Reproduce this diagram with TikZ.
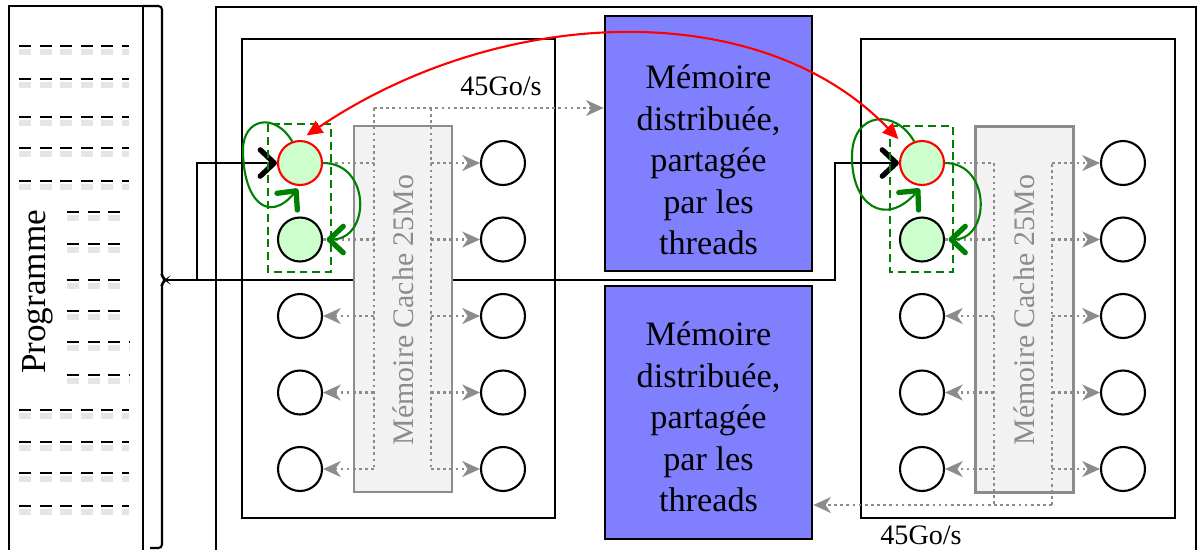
\documentclass[tikz,border=0pt]{standalone}
\usepackage{fontspec}
\setmainfont{Liberation Serif}
\usetikzlibrary{arrows.meta}
\definecolor{memblue}{HTML}{8080FF}
\definecolor{thgreen}{HTML}{008000}
\definecolor{lightgreen}{HTML}{CCFFCC}
\definecolor{cachegray}{HTML}{F2F2F2}
\definecolor{busgray}{HTML}{8C8C8C}

\begin{document}
\begin{tikzpicture}[x=0.02cm, y=-0.02cm, line width=1.2pt,
   membox/.style={draw, fill=memblue, line width=1.5pt, minimum width=4.14cm, inner sep=0pt},
   memtext/.style={align=center, font=\fontsize{19.5}{23.6}\selectfont},
   cache/.style={draw=busgray, fill=cachegray, line width=1.2pt, minimum width=1.96cm, minimum height=7.32cm, inner sep=0pt},
   cachetext/.style={rotate=90, text=busgray, font=\fontsize{17}{20}\selectfont},
   rate/.style={font=\fontsize{16}{19}\selectfont},
   bus/.style={draw=busgray, dotted, line width=1.5pt},
   busarrow/.style={bus, -{Stealth[length=10pt, width=9pt, inset=3pt]}},
   call/.style={-{Straight Barb[length=8pt, width=15pt, line width=3pt, round]}},
   jump/.style={draw=thgreen, line width=1.2pt, shorten >=2pt, -{Straight Barb[length=8pt, width=15pt, line width=3pt, round]}},
   sync/.style={draw=red, line width=1.2pt, >={Triangle[length=9pt, width=8pt]}, <->},
   group/.style={draw=thgreen, line width=1.2pt, dash pattern=on 4.5pt off 2.8pt},
   codeline/.style={line width=1.6pt, dash pattern=on 6.8pt off 4.9pt},
   codeshadow/.style={codeline, draw=black!10, line width=3pt}]

\useasboundingbox (0,0) rectangle (1198,549);
\clip (0,0) rectangle (1198,549);

\draw (9,560) -- (9,6) -- (143,6) -- (143,560);
\draw[rounded corners=2pt] (143,6) -- (162,6) -- (162,277) -- (166,280) -- (162,283) -- (162,548) -- (150,548);
\coordinate (brtip) at (166,280);
\node[rotate=90, font=\fontsize{20}{24}\selectfont] (prog) at (38,292) {Programme};
\foreach \y in {46,79,117,148,181,410,442,473,506} {
   \draw[codeshadow] (19,\y+6) -- (129,\y+6);
   \draw[codeline] (19,\y) -- (129,\y);
}
\foreach \y/\e in {212/120,244/120,280/120,311/120,342/130,375/130} {
   \draw[codeshadow] (67,\y+6) -- (\e,\y+6);
   \draw[codeline] (67,\y) -- (\e,\y);
}

\draw (216,560) -- (216,7) -- (1196,7) -- (1196,560);
\draw[line width=1.4pt] (242,39) rectangle (555,518);
\draw[line width=1.4pt] (861,39) rectangle (1175,518);

\node[membox, minimum height=5.1cm] (mem1) at (708.5,143.5) {};
\node[membox, minimum height=5.06cm] (mem2) at (708.5,412.5) {};
\node[memtext] (mem1text) at (708.5,160) {Mémoire\\distribuée,\\partagée\\par les\\threads};
\node[memtext] (mem2text) at (708.5,417) {Mémoire\\distribuée,\\partagée\\par les\\threads};

\begin{scope}[every node/.style={circle, draw, fill=white, line width=1.2pt, minimum size=0.88cm, inner sep=0pt}]
   \foreach \i/\y in {1/163,2/239.5,3/316,4/392.5,5/469} {
      \node (b\i) at (503,\y) {};
      \node (d\i) at (1123,\y) {};
   }
   \foreach \i/\y in {3/316,4/392.5,5/469} {
      \node (a\i) at (300,\y) {};
      \node (c\i) at (922,\y) {};
   }
   \node[draw=red, fill=lightgreen] (a1) at (300,163) {};
   \node[fill=lightgreen] (a2) at (300,239.5) {};
   \node[draw=red, fill=lightgreen] (c1) at (922,163) {};
   \node[fill=lightgreen] (c2) at (922,239.5) {};
\end{scope}

\draw[call] (brtip) -- (197,280) |- (a1);
\draw[call] (brtip) -- (835,280) |- (c1);

\node[cache] (cache1) at (403,309) {};
\node[cachetext] (cache1text) at (403,310) {Mémoire Cache 25Mo};
\node[cache] (cache2) at (1024.5,309.5) {};
\node[cachetext] (cache2text) at (1024.5,310) {Mémoire Cache 25Mo};

\coordinate (ltop) at (374,108);
\coordinate (rtop) at (431,108);
\draw[busarrow] (ltop) -- (ltop -| mem1.west);
\draw[bus] (ltop) -- (ltop |- a5);
\draw[bus] (rtop) -- (rtop |- b5);
\draw[bus] (a1) -- (ltop |- a1);
\draw[bus] (a2) -- (ltop |- a2);
\foreach \i in {3,4,5} \draw[busarrow] (ltop |- a\i) -- (a\i);
\foreach \i in {1,...,5} \draw[busarrow] (rtop |- b\i) -- (b\i);
\node[rate] (rate1) at (501,86) {45Go/s};

\coordinate (lbot) at (994,505);
\coordinate (rbot) at (1052,505);
\draw[busarrow] (rbot) -- (rbot -| mem2.east);
\draw[bus] (c1) -- (lbot |- c1) -- (lbot);
\draw[bus] (c2) -- (lbot |- c2);
\draw[bus] (rbot) -- (rbot |- d1);
\foreach \i in {3,4,5} \draw[busarrow] (lbot |- c\i) -- (c\i);
\foreach \i in {1,...,5} \draw[busarrow] (rbot |- d\i) -- (d\i);
\node[rate] (rate2) at (921,535) {45Go/s};

\draw[group] (268,124) rectangle (331,272);
\draw[group] (890,126) rectangle (953,272);

\draw[jump] (a1.east) .. controls +(48,0) and +(48,0) .. (a2.east);
\draw[jump] (a1.110) .. controls (275,112) and (243,118) .. (243,150) .. controls (243,200) and (268,225) .. (a1.south);
\draw[jump] (c1.east) .. controls +(46,0) and +(46,0) .. (c2.east);
\draw[jump] (c1.110) .. controls (895,108) and (853,112) .. (852,155) .. controls (851,205) and (885,228) .. (c1.south);

\draw[sync, shorten <=4.5pt, shorten >=6pt] (a1.north) .. controls (500,5) and (760,-5) .. (c1.north west);
\end{tikzpicture}
\end{document}
